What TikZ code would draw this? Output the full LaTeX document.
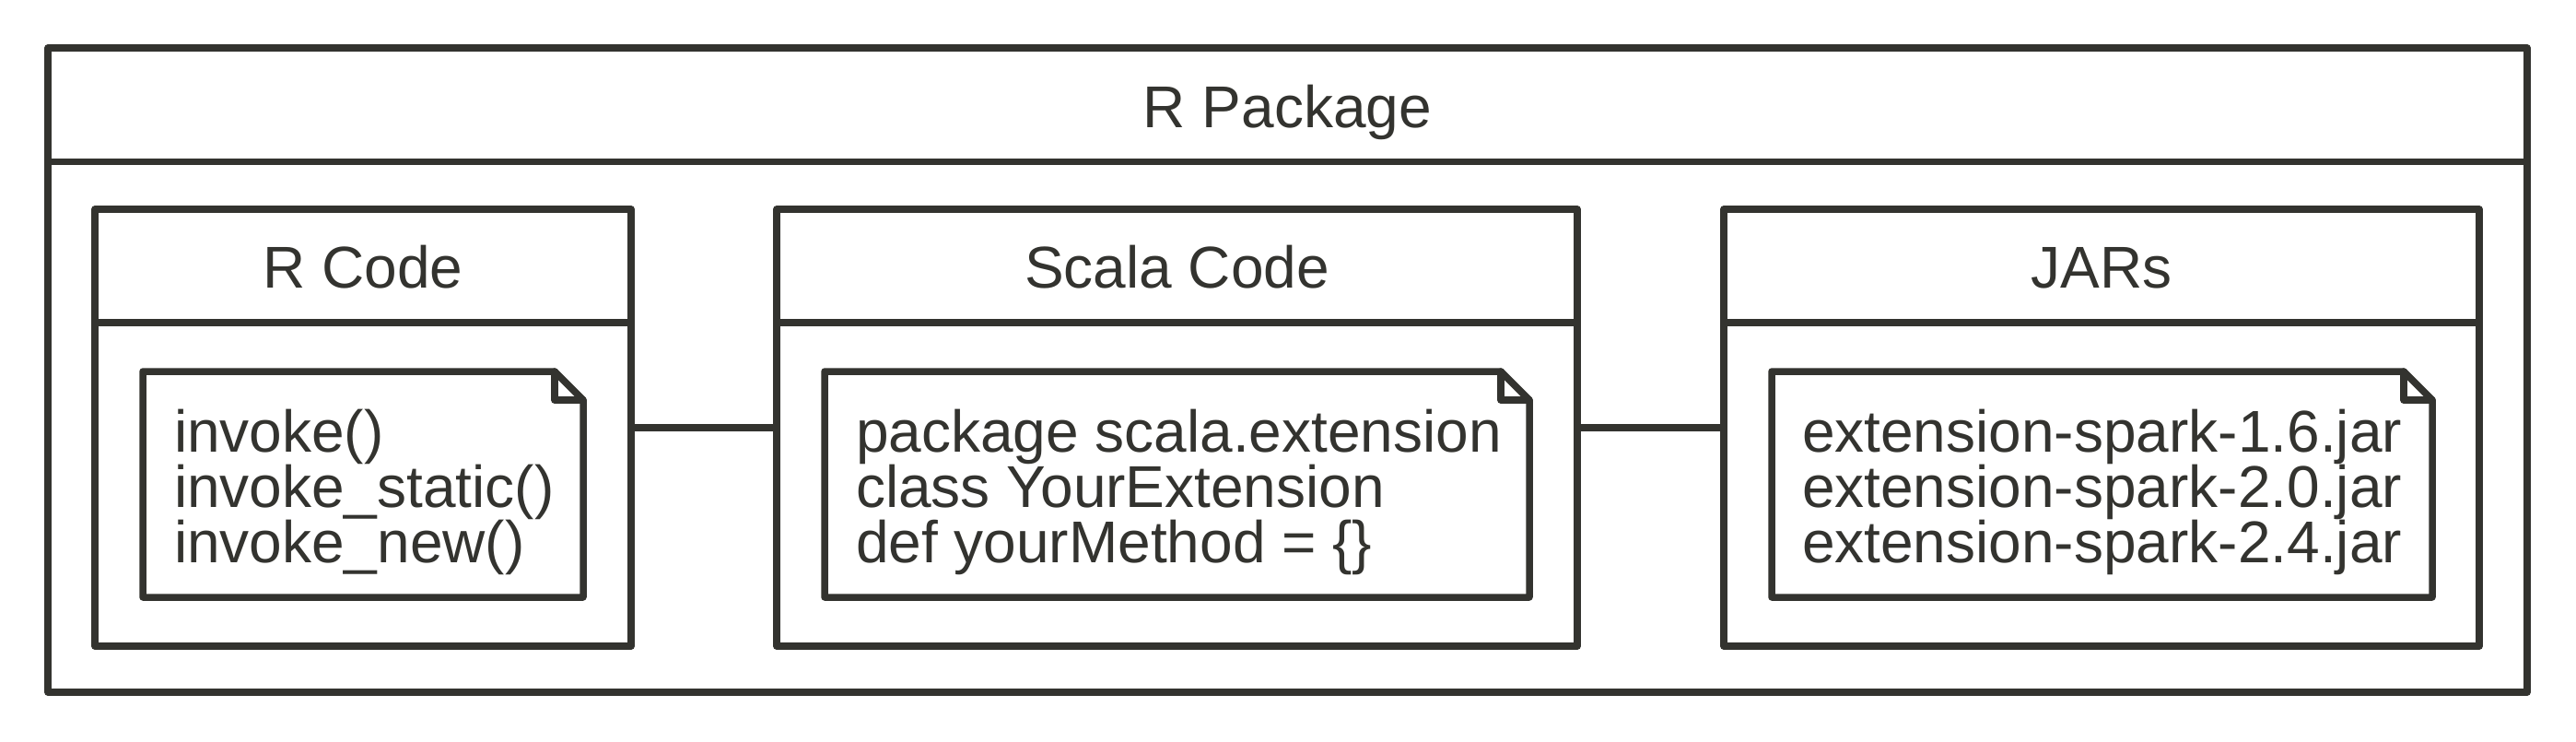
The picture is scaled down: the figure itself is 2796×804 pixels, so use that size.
\documentclass[tikz,border=0pt]{standalone}
\usepackage{fontspec}
\setmainfont{Liberation Sans}
\definecolor{ink}{RGB}{51,51,47}
\begin{document}
\begin{tikzpicture}[x=0.25pt,y=-0.25pt,
  every node/.style={inner sep=0pt,outer sep=0pt},
  box/.style={draw=ink,line width=1.875pt,line join=round,rectangle},
  lbl/.style={text=ink,font=\fontsize{16pt}{15pt}\selectfont,anchor=base},
  notetext/.style={text=ink,font=\fontsize{16pt}{15pt}\selectfont,align=left,anchor=base west},
  ln/.style={draw=ink,line width=1.875pt,line join=round,line cap=round}]
\useasboundingbox (0,0) rectangle (2796,804);
\fill[white] (0,0) rectangle (2796,804);
% outer package
\node[box,minimum width=672.75pt,minimum height=174.75pt] (pkg) at (1397.5,401.5) {};
\draw[ln] ([yshift=-30.875pt]pkg.north west) -- ([yshift=-30.875pt]pkg.north east);
\node[lbl] (pkgtitle) at (1397.5,138) {R Package};
% inner boxes
\node[box,minimum width=145.5pt,minimum height=118.5pt] (rcode) at (394,464) {};
\node[box,minimum width=217.25pt,minimum height=118.5pt] (scala) at (1277.5,464) {};
\node[box,minimum width=205pt,minimum height=118.5pt] (jars) at (2281,464) {};
\foreach \b in {rcode,scala,jars}{
  \draw[ln] ([yshift=-30.75pt]\b.north west) -- ([yshift=-30.75pt]\b.north east);
}
\node[lbl] (rcodetitle) at (394,312) {R Code};
\node[lbl] (scalatitle) at (1277.5,312) {Scala Code};
\node[lbl] (jarstitle) at (2281,312) {JARs};
% notes
\node[minimum width=119.5pt,minimum height=61.25pt] (rnote) at (394,525.5) {};
\node[minimum width=191.25pt,minimum height=61.25pt] (snote) at (1277.5,525.5) {};
\node[minimum width=179.25pt,minimum height=61.25pt] (jnote) at (2281.5,525.5) {};
\foreach \n in {rnote,snote,jnote}{
  \draw[ln,fill=white] (\n.north west) -- ([xshift=-7.75pt]\n.north east) -- ([yshift=-7.75pt]\n.north east) -- (\n.south east) -- (\n.south west) -- cycle;
  \draw[ln] ([xshift=-7.75pt]\n.north east) -- ([xshift=-7.75pt,yshift=-7.75pt]\n.north east) -- ([yshift=-7.75pt]\n.north east);
}
\node[notetext] (rtext) at (189,610) {invoke()\\invoke\_static()\\invoke\_new()};
\node[notetext] (stext) at (929,610) {package scala.extension\\class YourExtension\\def yourMethod = \{\}};
\node[notetext] (jtext) at (1956,610) {extension-spark-1.6.jar\\extension-spark-2.0.jar\\extension-spark-2.4.jar};
% connectors
\draw[ln] (rcode.east) -- (scala.west);
\draw[ln] (scala.east) -- (jars.west);
\end{tikzpicture}
\end{document}
